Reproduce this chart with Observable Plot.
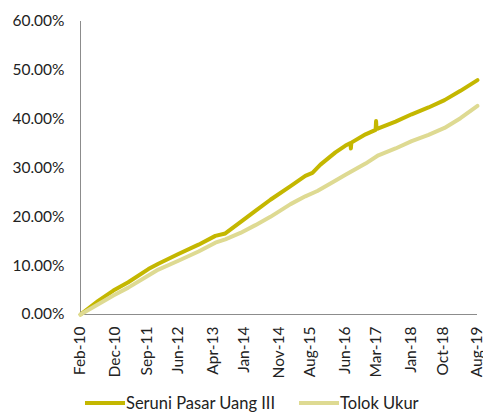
<!DOCTYPE html>
<html>
<head>
<meta charset="utf-8">
<script src="https://cdn.jsdelivr.net/npm/d3@7"></script>
<script src="https://cdn.jsdelivr.net/npm/@observablehq/plot@0.6"></script>
<style>
  html, body { margin: 0; padding: 0; background: #fff; }
  body { width: 483px; height: 415px; overflow: hidden; font-family: Lato, "Open Sans", sans-serif; }
  #legend { display: flex; align-items: center; height: 25px; padding-top: 4px; padding-left: 85px; font-size: 16.5px; color: #222; }
  .item { display: flex; align-items: center; margin-right: 24px; }
  .sw { width: 40px; height: 4px; margin-right: 1px; }
</style>
</head>
<body>
<div id="chart"></div>
<div id="legend"></div>
<script>
// Series names and colours
const seriesNames = ["Seruni Pasar Uang III", "Tolok Ukur"];
const seriesColors = ["#C4B700", "#DEDA92"];

// Seruni Pasar Uang III (cumulative return, %)
const seruniDates = ["2010-02-01","2010-07-06","2010-11-15","2011-03-25","2011-09-17","2011-12-13","2012-06-05","2012-11-28","2013-04-24","2013-07-20","2013-11-29","2014-04-09","2014-08-18","2015-02-10","2015-06-19","2015-08-20","2015-10-29","2016-03-08","2016-06-04","2016-07-17","2016-07-21","2016-07-25","2016-11-26","2017-02-22","2017-02-26","2017-03-02","2017-03-18","2017-08-15","2018-01-03","2018-05-30","2018-10-17","2019-03-05","2019-08-01"];
const seruniValues = [0, 2.8, 4.9, 6.6, 9.3, 10.4, 12.4, 14.3, 16.1, 16.6, 18.9, 21.2, 23.5, 26.3, 28.4, 29.0, 30.7, 33.2, 34.6, 35.1, 34.0, 35.2, 36.9, 37.8, 39.6, 38.0, 38.1, 39.5, 41.0, 42.4, 43.9, 45.8, 48.0];

// Tolok Ukur (benchmark, %)
const tolokDates = ["2010-02-01","2010-07-06","2010-11-15","2011-03-25","2011-09-17","2011-12-13","2012-06-05","2012-11-28","2013-04-24","2013-07-20","2013-11-29","2014-04-09","2014-08-18","2015-02-10","2015-06-19","2015-10-02","2016-02-20","2016-06-04","2016-11-26","2017-03-18","2017-08-15","2018-01-03","2018-05-30","2018-10-17","2019-03-05","2019-08-01"];
const tolokValues = [0, 2.1, 3.9, 5.5, 8.0, 9.2, 11.0, 12.9, 14.7, 15.4, 16.7, 18.3, 20.0, 22.6, 24.2, 25.3, 27.2, 28.6, 30.9, 32.6, 34.0, 35.5, 36.8, 38.2, 40.2, 42.7];

// Axis tick labels
const xTickDates = ["2010-02-01","2010-12-01","2011-09-01","2012-06-01","2013-04-01","2014-01-01","2014-11-01","2015-08-01","2016-06-01","2017-03-01","2018-01-01","2018-10-01","2019-08-01"];
const yTicks = [0, 10, 20, 30, 40, 50, 60];

const parse = d3.utcParse("%Y-%m-%d");
const seruni = seruniDates.map((d, i) => ({date: parse(d), value: seruniValues[i]}));
const tolok = tolokDates.map((d, i) => ({date: parse(d), value: tolokValues[i]}));
const xTicks = xTickDates.map(parse);
const x0 = xTicks[0], x1 = xTicks[xTicks.length - 1];

const chart = Plot.plot({
  width: 483,
  height: 386,
  marginLeft: 80,
  marginRight: 6,
  marginTop: 21,
  marginBottom: 72,
  style: {fontFamily: "Lato, 'Open Sans', sans-serif", fontSize: "15.5px", color: "#222"},
  x: {type: "utc", domain: [x0, x1]},
  y: {domain: [0, 60]},
  marks: [
    Plot.ruleX([x0], {y1: 0, y2: 60, stroke: "#8c8c8c", strokeWidth: 1}),
    Plot.ruleY([0], {stroke: "#8c8c8c", strokeWidth: 1}),
    Plot.axisY({ticks: yTicks, tickSize: 0, tickPadding: 16, tickFormat: d => d.toFixed(2) + "%", label: null}),
    Plot.axisX({ticks: xTicks, tickSize: 0, tickPadding: 12, tickRotate: -90, tickFormat: d3.utcFormat("%b-%y"), label: null}),
    Plot.lineY(seruni, {x: "date", y: "value", stroke: seriesColors[0], strokeWidth: 4, strokeLinejoin: "round", strokeLinecap: "round"}),
    Plot.lineY(tolok, {x: "date", y: "value", stroke: seriesColors[1], strokeWidth: 4, strokeLinejoin: "round", strokeLinecap: "round"})
  ]
});
document.getElementById("chart").appendChild(chart);

const legend = document.getElementById("legend");
seriesNames.forEach((name, i) => {
  const item = document.createElement("div");
  item.className = "item";
  item.innerHTML = `<span class="sw" style="background:${seriesColors[i]}"></span><span>${name}</span>`;
  legend.appendChild(item);
});
</script>
</body>
</html>
